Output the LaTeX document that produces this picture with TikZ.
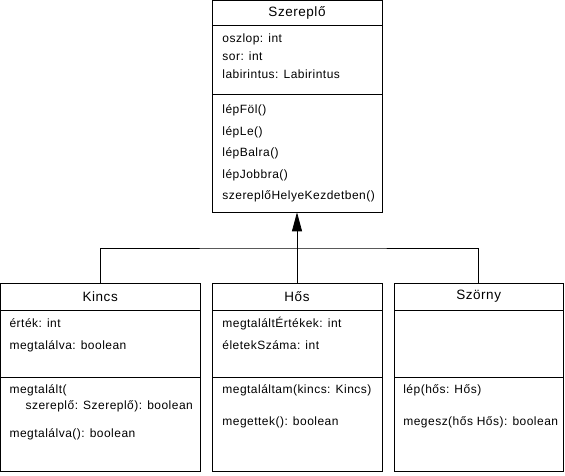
\documentclass[tikz,border=0pt]{standalone}
\usepackage{fontspec}
\setmainfont[LetterSpace=4]{Liberation Sans}
\usetikzlibrary{positioning,arrows.meta}
\newcommand\mstrut{\rule{0pt}{10pt}}
\begin{document}
\begin{tikzpicture}[
x=1pt, y=-1pt,
line width=0.8pt,
part/.style={draw, inner sep=0pt, outer sep=0pt, anchor=north},
classname/.style={part, font=\fontsize{13.5}{15}\selectfont},
members/.style={anchor=north west, inner sep=0pt, align=left,
  font=\fontsize{12}{#1}\selectfont},
members/.default=18pt,
inherit/.style={-{Triangle[length=19pt,width=10pt]}}
]
\useasboundingbox (0,0) rectangle (565,475);

\node[classname, minimum width=170pt, minimum height=25.2pt] (szereplo) at (297,0.5) {Szereplő};
\node[part, minimum width=170pt, minimum height=68.6pt, below=0pt of szereplo] (szereplo-a) {};
\node[part, minimum width=170pt, minimum height=118pt, below=0pt of szereplo-a] (szereplo-m) {};

\node[classname, minimum width=200pt, minimum height=27.3pt] (kincs) at (100.2,283) {Kincs};
\node[part, minimum width=200pt, minimum height=67pt, below=0pt of kincs] (kincs-a) {};
\node[part, minimum width=200pt, minimum height=94.5pt, below=0pt of kincs-a] (kincs-m) {};

\node[classname, minimum width=170pt, minimum height=27.3pt] (hos) at (297,283) {Hős};
\node[part, minimum width=170pt, minimum height=67pt, below=0pt of hos] (hos-a) {};
\node[part, minimum width=170pt, minimum height=94.5pt, below=0pt of hos-a] (hos-m) {};

\node[classname, minimum width=169.5pt, minimum height=27.3pt] (szorny) at (478.7,283) {Szörny};
\node[part, minimum width=169.5pt, minimum height=67pt, below=0pt of szorny] (szorny-a) {};
\node[part, minimum width=169.5pt, minimum height=94.5pt, below=0pt of szorny-a] (szorny-m) {};

\node[members] (szereplo-at) at ([xshift=10pt,yshift=-6.5pt]szereplo-a.north west)
  {\mstrut oszlop: int\\sor: int\\labirintus: Labirintus};
\node[members=21.5pt] (szereplo-op) at ([xshift=10pt,yshift=-9pt]szereplo-m.north west)
  {\mstrut lépFöl()\\lépLe()\\lépBalra()\\lépJobbra()\\szereplőHelyeKezdetben()};

\node[members=22pt] (kincs-at) at ([xshift=9pt,yshift=-6.5pt]kincs-a.north west)
  {\mstrut érték: int\\megtalálva: boolean};
\node[members=16pt] (kincs-op) at ([xshift=9pt,yshift=-6pt]kincs-m.north west)
  {\mstrut megtalált(\\\hspace*{16pt}szereplő: Szereplő): boolean\\[12pt]megtalálva(): boolean};

\node[members=22pt] (hos-at) at ([xshift=10pt,yshift=-6.5pt]hos-a.north west)
  {\mstrut megtaláltÉrtékek: int\\életekSzáma: int};
\node[members=32pt] (hos-op) at ([xshift=10pt,yshift=-6pt]hos-m.north west)
  {\mstrut megtaláltam(kincs: Kincs)\\megettek(): boolean};

\node[members=32pt] (szorny-op) at ([xshift=9pt,yshift=-6pt]szorny-m.north west)
  {\mstrut lép(hős: Hős)\\megesz(hős Hős): boolean};

\coordinate (bus) at (297,248);
\draw[inherit] (hos.north) -- (szereplo-m.south);
\draw (kincs.north) |- (bus) -| (szorny.north);
\end{tikzpicture}
\end{document}
